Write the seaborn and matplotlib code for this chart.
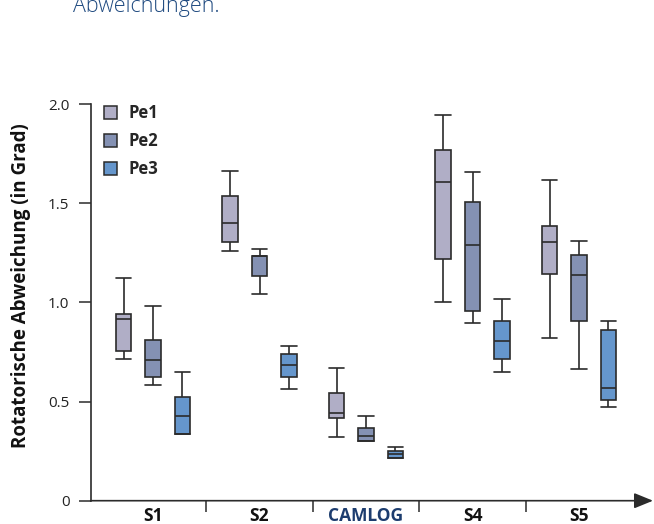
import matplotlib
matplotlib.use("Agg")
import matplotlib.pyplot as plt
from matplotlib.patches import Patch
from matplotlib.ticker import FixedLocator
import numpy as np
import pandas as pd
import seaborn as sns

# Five-number summaries per system: [min, Q1, median, Q3, max]
systems = ["S1", "S2", "CAMLOG", "S4", "S5"]
groups = ["Pe1", "Pe2", "Pe3"]

pe1 = [
    [0.713, 0.753, 0.915, 0.939, 1.124],
    [1.260, 1.303, 1.400, 1.536, 1.660],
    [0.319, 0.418, 0.443, 0.545, 0.669],
    [1.001, 1.221, 1.607, 1.766, 1.945],
    [0.818, 1.144, 1.306, 1.383, 1.618],
]
pe2 = [
    [0.585, 0.626, 0.709, 0.812, 0.981],
    [1.043, 1.132, 1.234, 1.234, 1.268],
    [0.302, 0.302, 0.324, 0.366, 0.426],
    [0.894, 0.954, 1.291, 1.506, 1.658],
    [0.666, 0.904, 1.137, 1.241, 1.308],
]
pe3 = [
    [0.337, 0.337, 0.425, 0.523, 0.651],
    [0.562, 0.624, 0.684, 0.741, 0.778],
    [0.216, 0.216, 0.236, 0.250, 0.272],
    [0.648, 0.713, 0.805, 0.904, 1.016],
    [0.473, 0.510, 0.567, 0.862, 0.904],
]

y_ticks = [0, 0.5, 1.0, 1.5, 2.0]
y_ticklabels = ["0", "0.5", "1.0", "1.5", "2.0"]

colors = {"Pe1": "#b0aec6", "Pe2": "#8491b3", "Pe3": "#6596cc"}
line_col = "#2b2b2b"
dark_blue = "#1c3c6e"

rows = []
for grp, summaries in zip(groups, [pe1, pe2, pe3]):
    for sysname, five in zip(systems, summaries):
        for v in five:
            rows.append({"System": sysname, "Pe": grp, "Abweichung": v})
df = pd.DataFrame(rows)

sns.set_style("ticks")
plt.rcParams["font.family"] = ["Open Sans", "DejaVu Sans"]

fig = plt.figure(figsize=(6.54, 5.24), dpi=100)
ax = fig.add_axes([90.7 / 654, 1 - 500.7 / 524, (653 - 90.7) / 654, (500.7 - 104) / 524])

box_w = 0.1455
sns.boxplot(
    data=df, x="System", y="Abweichung", hue="Pe",
    order=systems, hue_order=groups, palette=colors,
    whis=(0, 100), width=0.828, gap=0.473,
    linecolor=line_col, linewidth=1.2, saturation=1,
    capwidths=box_w, legend=False, ax=ax,
)

ax.set_xlim((90.7 - 153) / 106.5, (653 - 153) / 106.5)
ax.set_ylim(0, 2.0)
ax.set_xlabel("")
ax.set_ylabel("")

# y axis
ax.set_yticks(y_ticks)
ax.set_yticklabels(y_ticklabels, fontsize=11, color="#222222")
ax.tick_params(axis="y", length=8.3, width=1.1, color=line_col, pad=7)

# x axis: labels at group centres, separators between groups
ax.set_xticks(range(len(systems)))
ax.set_xticklabels(systems, fontsize=12.5, fontweight="bold")
for lbl in ax.get_xticklabels():
    lbl.set_color(dark_blue if lbl.get_text() == "CAMLOG" else "#111111")
ax.tick_params(axis="x", which="major", length=0, pad=4.5)
ax.xaxis.set_minor_locator(FixedLocator([0.5, 1.5, 2.5, 3.5]))
ax.tick_params(axis="x", which="minor", length=8, width=1.1, color=line_col, direction="out")

for s in ["top", "right", "bottom"]:
    ax.spines[s].set_visible(False)
ax.spines["left"].set_color(line_col)
ax.spines["left"].set_linewidth(1.2)

ax.annotate(
    "", xy=(1.0, 0), xytext=(0, 0), xycoords="axes fraction",
    arrowprops=dict(arrowstyle="-|>,head_length=1.15,head_width=0.47",
                    mutation_scale=10, color=line_col, lw=1.2,
                    shrinkA=0, shrinkB=0),
    annotation_clip=False,
)

fig.text(21 / 654, 1 - 285.5 / 524, "Rotatorische Abweichung (in Grad)",
         rotation=90, ha="center", va="center", fontsize=13.5,
         fontweight="bold", color="#111111")

handles = [Patch(facecolor=colors[g], edgecolor=line_col, linewidth=1.1, label=g)
           for g in groups]
ax.legend(handles=handles, loc="upper left", bbox_to_anchor=(104 / 654, 1 - 104 / 524),
          bbox_transform=fig.transFigure, frameon=False, handlelength=0.8,
          handleheight=0.8, handletextpad=0.7, labelspacing=0.6,
          prop={"weight": "bold", "size": 12}, borderaxespad=0, borderpad=0)

fig.text(72.7 / 654, 1 - 12 / 524, "Abweichungen.", fontsize=15.5,
         fontweight="light", color="#1f4a80", ha="left", va="baseline")

fig.savefig("out.png", dpi=100)
